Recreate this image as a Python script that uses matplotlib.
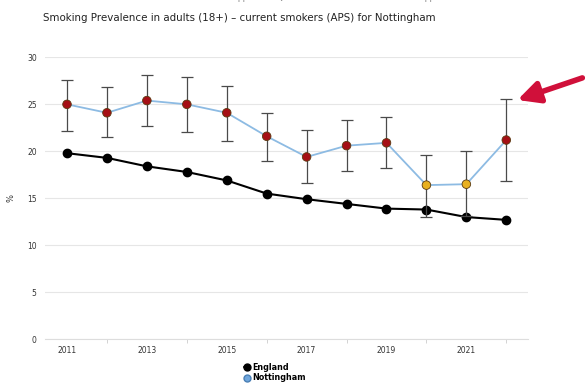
import matplotlib.pyplot as plt
import numpy as np

# data
years = [2011, 2012, 2013, 2014, 2015, 2016, 2017, 2018, 2019, 2020, 2021, 2022]
england = [19.8, 19.3, 18.4, 17.8, 16.9, 15.5, 14.9, 14.4, 13.9, 13.8, 13.0, 12.7]
nottingham = [25.0, 24.1, 25.4, 25.0, 24.1, 21.6, 19.4, 20.6, 20.9, 16.4, 16.5, 21.2]
notts_upper = [27.6, 26.8, 28.1, 27.9, 26.9, 24.1, 22.3, 23.3, 23.7, 19.6, 20.0, 25.6]
notts_lower = [22.2, 21.5, 22.7, 22.1, 21.1, 19.0, 16.6, 17.9, 18.2, 13.0, 13.1, 16.8]
# 'worse' = red, 'similar' = amber (compared with England)
notts_status = ['worse'] * 9 + ['similar', 'similar', 'worse']

status_colors = {'worse': '#a50f15', 'similar': '#e8b020'}

fig = plt.figure(figsize=(5.85, 3.85), dpi=100)
ax = fig.add_axes([0.077, 0.119, 0.826, 0.732])

yrs = np.array(years)
notts = np.array(nottingham)
yerr = [notts - np.array(notts_lower), np.array(notts_upper) - notts]

# England
ax.plot(yrs, england, color='black', lw=1.5, marker='o', ms=6,
        markerfacecolor='black', markeredgecolor='black', zorder=3)

# Nottingham line + confidence intervals
ax.plot(yrs, notts, color='#8dbbe3', lw=1.3, zorder=2)
ax.errorbar(yrs, notts, yerr=yerr, fmt='none', ecolor='#4a4a4a',
            elinewidth=0.9, capsize=4, capthick=0.9, zorder=4)
ax.scatter(yrs, notts, s=38, c=[status_colors[s] for s in notts_status],
           edgecolors='#5a3a10', linewidths=0.6, zorder=5)

ax.set_xlim(2010.45, 2022.55)
ax.set_ylim(0, 30)
ax.set_yticks([0, 5, 10, 15, 20, 25, 30])
ax.set_xticks([2011, 2013, 2015, 2017, 2019, 2021])
ax.set_xticks([2012, 2014, 2016, 2018, 2020, 2022], minor=True)
ax.tick_params(axis='x', which='major', length=0, labelsize=5.5, pad=5, colors='#333333')
ax.tick_params(axis='x', which='minor', length=3, color='#cccccc')
ax.tick_params(axis='y', length=0, labelsize=5.5, pad=6, colors='#333333')
ax.grid(axis='y', color='#e6e6e6', lw=0.8)
ax.set_axisbelow(True)
for s in ['top', 'right', 'left']:
    ax.spines[s].set_visible(False)
ax.spines['bottom'].set_color('#dddddd')
ax.set_ylabel('%', fontsize=6, color='#333333')
ax.yaxis.set_label_coords(-0.062, 0.5)

fig.text(0.074, 0.953, 'Smoking Prevalence in adults (18+) \u2013 current smokers (APS) for Nottingham',
         fontsize=7.4, color='#222222', va='center')
# cropped legend strip at the very top of the screenshot
fig.text(0.13, 1.006, 'Better 95%    Similar    Worse 95%    Not applicable  Quintiles:'
         '                        Worse    Not applicable',
         fontsize=5.5, color='#777777', va='center')

# legend
h1, = ax.plot([], [], color='black', marker='o', ms=5, lw=1.2)
h2, = ax.plot([], [], color='#8dbbe3', marker='o', ms=5, lw=0,
              markerfacecolor='#6fa6dc', markeredgecolor='#4a7fb5')
fig.legend([h1, h2], ['England', 'Nottingham'], loc='lower left',
           bbox_to_anchor=(0.405, -0.012), frameon=False,
           handlelength=0.7, handletextpad=0.3, labelspacing=0.15,
           prop={'weight': 'bold', 'size': 5.8})

# red arrow pointing at the latest value
ax.annotate('', xy=(0.88, 0.738), xycoords='figure fraction',
            xytext=(1.0, 0.8), textcoords='figure fraction',
            arrowprops=dict(arrowstyle='-|>,head_length=1.3,head_width=0.65',
                            color='#d0103a', lw=4))

fig.savefig('out.png', dpi=100)
